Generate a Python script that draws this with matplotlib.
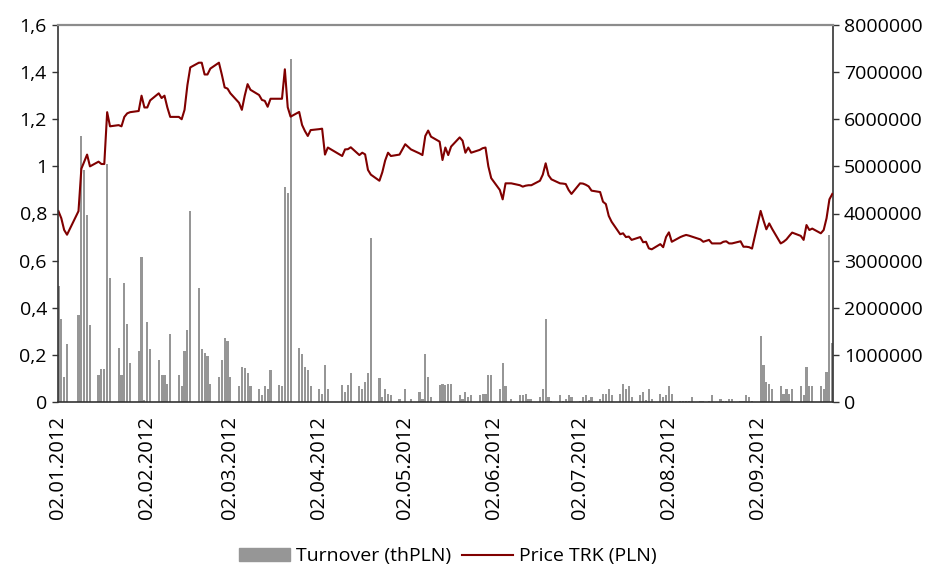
import numpy as np
import pandas as pd
import matplotlib
matplotlib.use("Agg")
import matplotlib.pyplot as plt
import matplotlib.dates as mdates
from matplotlib.patches import Patch
from matplotlib.lines import Line2D
from matplotlib.ticker import FuncFormatter

plt.rcParams['font.family'] = ['Open Sans', 'DejaVu Sans']

# trading days (WSE holidays left out)
holidays = ['2012-01-06', '2012-04-06', '2012-04-09', '2012-05-01',
            '2012-05-03', '2012-06-07', '2012-08-15']
dates = pd.bdate_range('2012-01-02', '2012-09-28', freq='C', holidays=holidays)

# price TRK (PLN), per month
price_jan = [0.81, 0.78, 0.73, 0.71, 0.81, 0.99, 1.02, 1.05, 1.00, 1.02, 1.01,
             1.01, 1.23, 1.17, 1.175, 1.17, 1.21, 1.225, 1.23, 1.235, 1.30]
price_feb = [1.25, 1.25, 1.28, 1.31, 1.29, 1.30, 1.25, 1.21, 1.21, 1.20, 1.24,
             1.345, 1.42, 1.44, 1.44, 1.39, 1.39, 1.415, 1.44, 1.39, 1.335]
price_mar = [1.33, 1.31, 1.27, 1.24, 1.30, 1.349, 1.325, 1.303, 1.282, 1.278,
             1.253, 1.287, 1.287, 1.287, 1.412, 1.251, 1.211, 1.231, 1.176,
             1.15, 1.129, 1.154]
price_apr = [1.158, 1.16, 1.05, 1.08, 1.044, 1.072, 1.073, 1.081, 1.048, 1.058,
             1.051, 0.985, 0.965, 0.939, 0.975, 1.025, 1.058, 1.044, 1.05]
price_may = [1.094, 1.072, 1.055, 1.048, 1.129, 1.152, 1.126, 1.105, 1.027,
             1.08, 1.048, 1.084, 1.123, 1.109, 1.058, 1.08, 1.058, 1.07, 1.077,
             1.08, 1.0]
price_jun = [0.95, 0.90, 0.86, 0.928, 0.928, 0.92, 0.914, 0.918, 0.92, 0.92,
             0.939, 0.965, 1.013, 0.962, 0.945, 0.928, 0.927, 0.925, 0.90, 0.883]
price_jul = [0.928, 0.927, 0.922, 0.915, 0.897, 0.891, 0.85, 0.84, 0.79, 0.765,
             0.712, 0.716, 0.70, 0.702, 0.688, 0.70, 0.678, 0.68, 0.652, 0.648,
             0.67, 0.657]
price_aug = [0.70, 0.72, 0.68, 0.70, 0.705, 0.709, 0.706, 0.702, 0.69, 0.68,
             0.688, 0.673, 0.673, 0.68, 0.682, 0.673, 0.673, 0.682, 0.659,
             0.659, 0.657, 0.651]
price_sep = [0.811, 0.77, 0.733, 0.758, 0.735, 0.673, 0.68, 0.69, 0.705, 0.719,
             0.705, 0.688, 0.751, 0.73, 0.736, 0.716, 0.73, 0.78, 0.86, 0.883]

# turnover, millions
turn_jan = [2.46, 1.76, 0.54, 1.23, 1.85, 5.64, 4.92, 3.97, 1.63, 0.57, 0.71,
            0.71, 5.06, 2.64, 1.14, 0.57, 2.52, 1.65, 0.83, 1.08, 3.07]
turn_feb = [0.05, 1.70, 1.12, 0.89, 0.57, 0.57, 0.38, 1.44, 0.57, 0.33, 1.08,
            1.53, 4.05, 2.41, 1.12, 1.03, 0.98, 0.38, 0.52, 0.89, 1.35]
turn_mar = [1.30, 0.52, 0.33, 0.75, 0.73, 0.62, 0.33, 0.27, 0.15, 0.33, 0.27,
            0.68, 0.36, 0.33, 4.57, 4.43, 7.27, 1.14, 1.02, 0.75, 0.68, 0.33]
turn_apr = [0.28, 0.17, 0.79, 0.28, 0.36, 0.22, 0.36, 0.61, 0.33, 0.27, 0.42,
            0.61, 3.47, 0.50, 0.11, 0.28, 0.17, 0.15, 0.06]
turn_may = [0.27, 0.06, 0.21, 0.06, 1.02, 0.52, 0.11, 0.36, 0.38, 0.36, 0.38,
            0.38, 0.15, 0.06, 0.21, 0.11, 0.15, 0.15, 0.17, 0.17, 0.57]
turn_jun = [0.57, 0.27, 0.82, 0.33, 0.06, 0.15, 0.15, 0.17, 0.06, 0.06, 0.11,
            0.27, 1.76, 0.11, 0.03, 0.15, 0.03, 0.06, 0.15, 0.11]
turn_jul = [0.03, 0.11, 0.15, 0.04, 0.11, 0.06, 0.17, 0.17, 0.27, 0.15, 0.17,
            0.38, 0.28, 0.33, 0.11, 0.15, 0.21, 0.04, 0.27, 0.06, 0.17, 0.11]
turn_aug = [0.15, 0.33, 0.17, 0.03, 0.02, 0.03, 0.02, 0.11, 0.03, 0.02, 0.02,
            0.15, 0.06, 0.03, 0.02, 0.06, 0.06, 0.02, 0.03, 0.15, 0.11, 0.02]
turn_sep = [1.40, 0.79, 0.42, 0.38, 0.27, 0.33, 0.17, 0.27, 0.17, 0.28, 0.33,
            0.15, 0.75, 0.33, 0.33, 0.33, 0.28, 0.64, 3.54, 1.26]

price = (price_jan + price_feb + price_mar + price_apr + price_may
         + price_jun + price_jul + price_aug + price_sep)
turnover = np.array(turn_jan + turn_feb + turn_mar + turn_apr + turn_may
                    + turn_jun + turn_jul + turn_aug + turn_sep) * 1e6

tick_dates = pd.date_range('2012-01-01', '2012-09-01', freq='MS') + pd.Timedelta(days=1)

fig = plt.figure(figsize=(9.37, 5.76), dpi=100)
ax = fig.add_axes([58 / 937, 1 - 402 / 576, 775 / 937, 377 / 576])
ax2 = ax.twinx()

ax2.bar(dates, turnover, width=0.75, color='#969696', linewidth=0)
ax.plot(dates, price, color='#800000', lw=1.5)

ax.set_zorder(ax2.get_zorder() + 1)
ax.patch.set_visible(False)

ax.set_ylim(0, 1.6)
ax.set_yticks(np.arange(0, 1.61, 0.2))
ax.yaxis.set_major_formatter(FuncFormatter(lambda v, p: f'{v:g}'.replace('.', ',')))
ax2.set_ylim(0, 8000000)
ax2.set_yticks(np.arange(0, 8000001, 1000000))
ax2.yaxis.set_major_formatter(FuncFormatter(lambda v, p: f'{int(v)}'))

x0 = mdates.date2num(pd.Timestamp('2012-01-02'))
x1 = mdates.date2num(pd.Timestamp('2012-09-28'))
ax.set_xlim(x0 - 0.15, x1 + 0.25)
ax.set_xticks(tick_dates)
ax.xaxis.set_major_formatter(mdates.DateFormatter('%d.%m.%Y'))
plt.setp(ax.get_xticklabels(), rotation=90)

for a in (ax, ax2):
    a.tick_params(labelsize=14, length=4, width=1, color='#333333', pad=4)
    for s in a.spines.values():
        s.set_visible(False)
ax.tick_params(axis='x', length=0, pad=10, labelsize=14.5)

ax.spines['left'].set_visible(True)
ax.spines['bottom'].set_visible(True)
ax.spines['top'].set_visible(True)
ax2.spines['right'].set_visible(True)
for s in (ax.spines['left'], ax.spines['bottom'], ax2.spines['right']):
    s.set_color('#333333')
    s.set_linewidth(1.2)
ax.spines['top'].set_color('#8c8c8c')
ax.spines['top'].set_linewidth(1.6)

handles = [Patch(color='#969696'), Line2D([], [], color='#800000', lw=1.5)]
fig.legend(handles, ['Turnover (thPLN)', 'Price TRK (PLN)'], loc='lower center',
           bbox_to_anchor=(0.478, -0.012), ncol=2, frameon=False, fontsize=14,
           handlelength=2.6, handletextpad=0.3, columnspacing=0.6)

fig.savefig('out.png', dpi=100)
